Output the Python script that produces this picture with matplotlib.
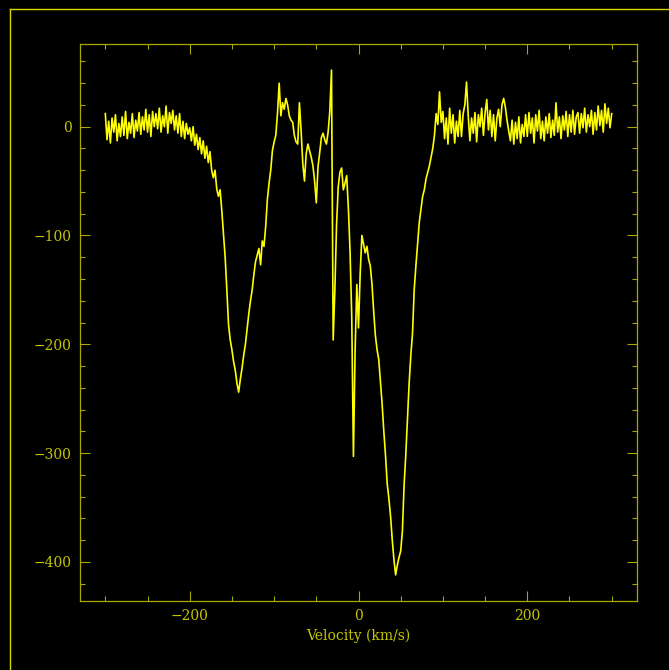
import numpy as np
import matplotlib
matplotlib.use('Agg')
import matplotlib.pyplot as plt
from matplotlib.lines import Line2D
from matplotlib.ticker import MultipleLocator

# velocity channels (km/s), 2 km/s spacing
velocity = np.arange(-300, 301, 2)

# flux, one row per 20 km/s
flux = [
    12, -12, 5, -15, 8, -5, 11, -13, 3, -9,
    9, -8, 14, -11, 4, -6, 12, -10, 6, -4,
    13, -7, 9, -3, 16, -5, 11, -9, 14, 0,
    12, -2, 17, -5, 10, 0, 19, -6, 13, 3,
    15, -3, 10, -6, 12, -9, 5, -11, 3, -7,
    -1, -13, 0, -17, -7, -21, -10, -25, -13, -29,
    -18, -33, -23, -40, -47, -40, -57, -64, -58, -77,
    -98, -120, -150, -182, -196, -205, -216, -224, -236, -244,
    -232, -222, -210, -200, -186, -172, -160, -150, -136, -124,
    -118, -112, -127, -105, -110, -92, -67, -52, -40, -22,
    -14, -8, 12, 40, 10, 22, 16, 26, 20, 10,
    6, 4, -8, -14, -16, 22, -4, -34, -50, -25,
    -16, -22, -28, -36, -50, -70, -37, -24, -10, -6,
    -12, -16, -5, 14, 52, -196, -150, -90, -55, -42,
    -38, -58, -52, -45, -75, -115, -175, -303, -205, -145,
    -185, -135, -100, -108, -116, -110, -122, -128, -145, -170,
    -192, -205, -214, -235, -255, -280, -302, -328, -342, -358,
    -380, -398, -412, -403, -396, -390, -372, -330, -302, -270,
    -236, -210, -190, -150, -128, -108, -88, -76, -64, -58,
    -48, -42, -36, -28, -20, -8, 12, 2, 32, 4,
    14, -11, 8, -16, 17, -6, 11, -15, 5, -9,
    15, -9, 12, 20, 41, 10, -13, 8, -6, 13,
    -14, 11, 0, 17, -8, 13, 25, -3, 15, -9,
    11, -13, 8, 16, 0, 20, 26, 18, 6, -4,
    -13, 6, -16, 4, -11, 9, -15, 2, -9, 11,
    -9, 13, -6, 8, -15, 11, -4, 15, -11, 5,
    -13, 9, -6, 12, -10, 6, -8, 22, -5, 9,
    -11, 10, -3, 14, -9, 11, -5, 15, -7, 9,
    13, -6, 12, -1, 17, -5, 11, 0, 15, -7,
    13, -3, 19, 1, 15, -5, 21, 3, 17, -1,
    12,
]

xticks = [-200, 0, 200]
yticks = [0, -100, -200, -300, -400]

axis_col = '#a8a800'
text_col = '#c4c400'
line_col = '#ffff00'

plt.rcParams['font.family'] = ['DejaVu Serif']

fig = plt.figure(figsize=(6.69, 6.70), dpi=100, facecolor='black')
ax = fig.add_axes([80/669, 1 - 601/670, 557/669, 557/670])
ax.set_facecolor('black')

ax.plot(velocity, flux, color=line_col, lw=1.2)

ax.set_xlim(-330, 330)
ax.set_ylim(-436, 76)
ax.set_xticks(xticks)
ax.set_yticks(yticks)
ax.xaxis.set_minor_locator(MultipleLocator(50))
ax.yaxis.set_minor_locator(MultipleLocator(20))
ax.set_yticklabels([f'\u2212{-t}' if t < 0 else str(t) for t in yticks])
ax.set_xticklabels([f'\u2212{-t}' if t < 0 else str(t) for t in xticks])

ax.tick_params(which='both', direction='in', top=True, right=True,
               color=axis_col, labelcolor=text_col, labelsize=10, width=0.8)
ax.tick_params(which='major', length=7.5, pad=6)
ax.tick_params(which='minor', length=3.8)
for s in ax.spines.values():
    s.set_color(axis_col)
    s.set_linewidth(0.9)

ax.set_xlabel('Velocity (km/s)', color=text_col, fontsize=10, labelpad=4)

# outer frame (only left and top edges visible in the frame)
fig.add_artist(Line2D([9.5/669, 9.5/669], [1 - 8.5/670, -0.1], color='#d8d800', lw=1.0,
                      transform=fig.transFigure))
fig.add_artist(Line2D([9.5/669, 1.1], [1 - 8.5/670, 1 - 8.5/670], color='#d8d800', lw=1.0,
                      transform=fig.transFigure))

fig.savefig('out.png', dpi=100, facecolor='black')
